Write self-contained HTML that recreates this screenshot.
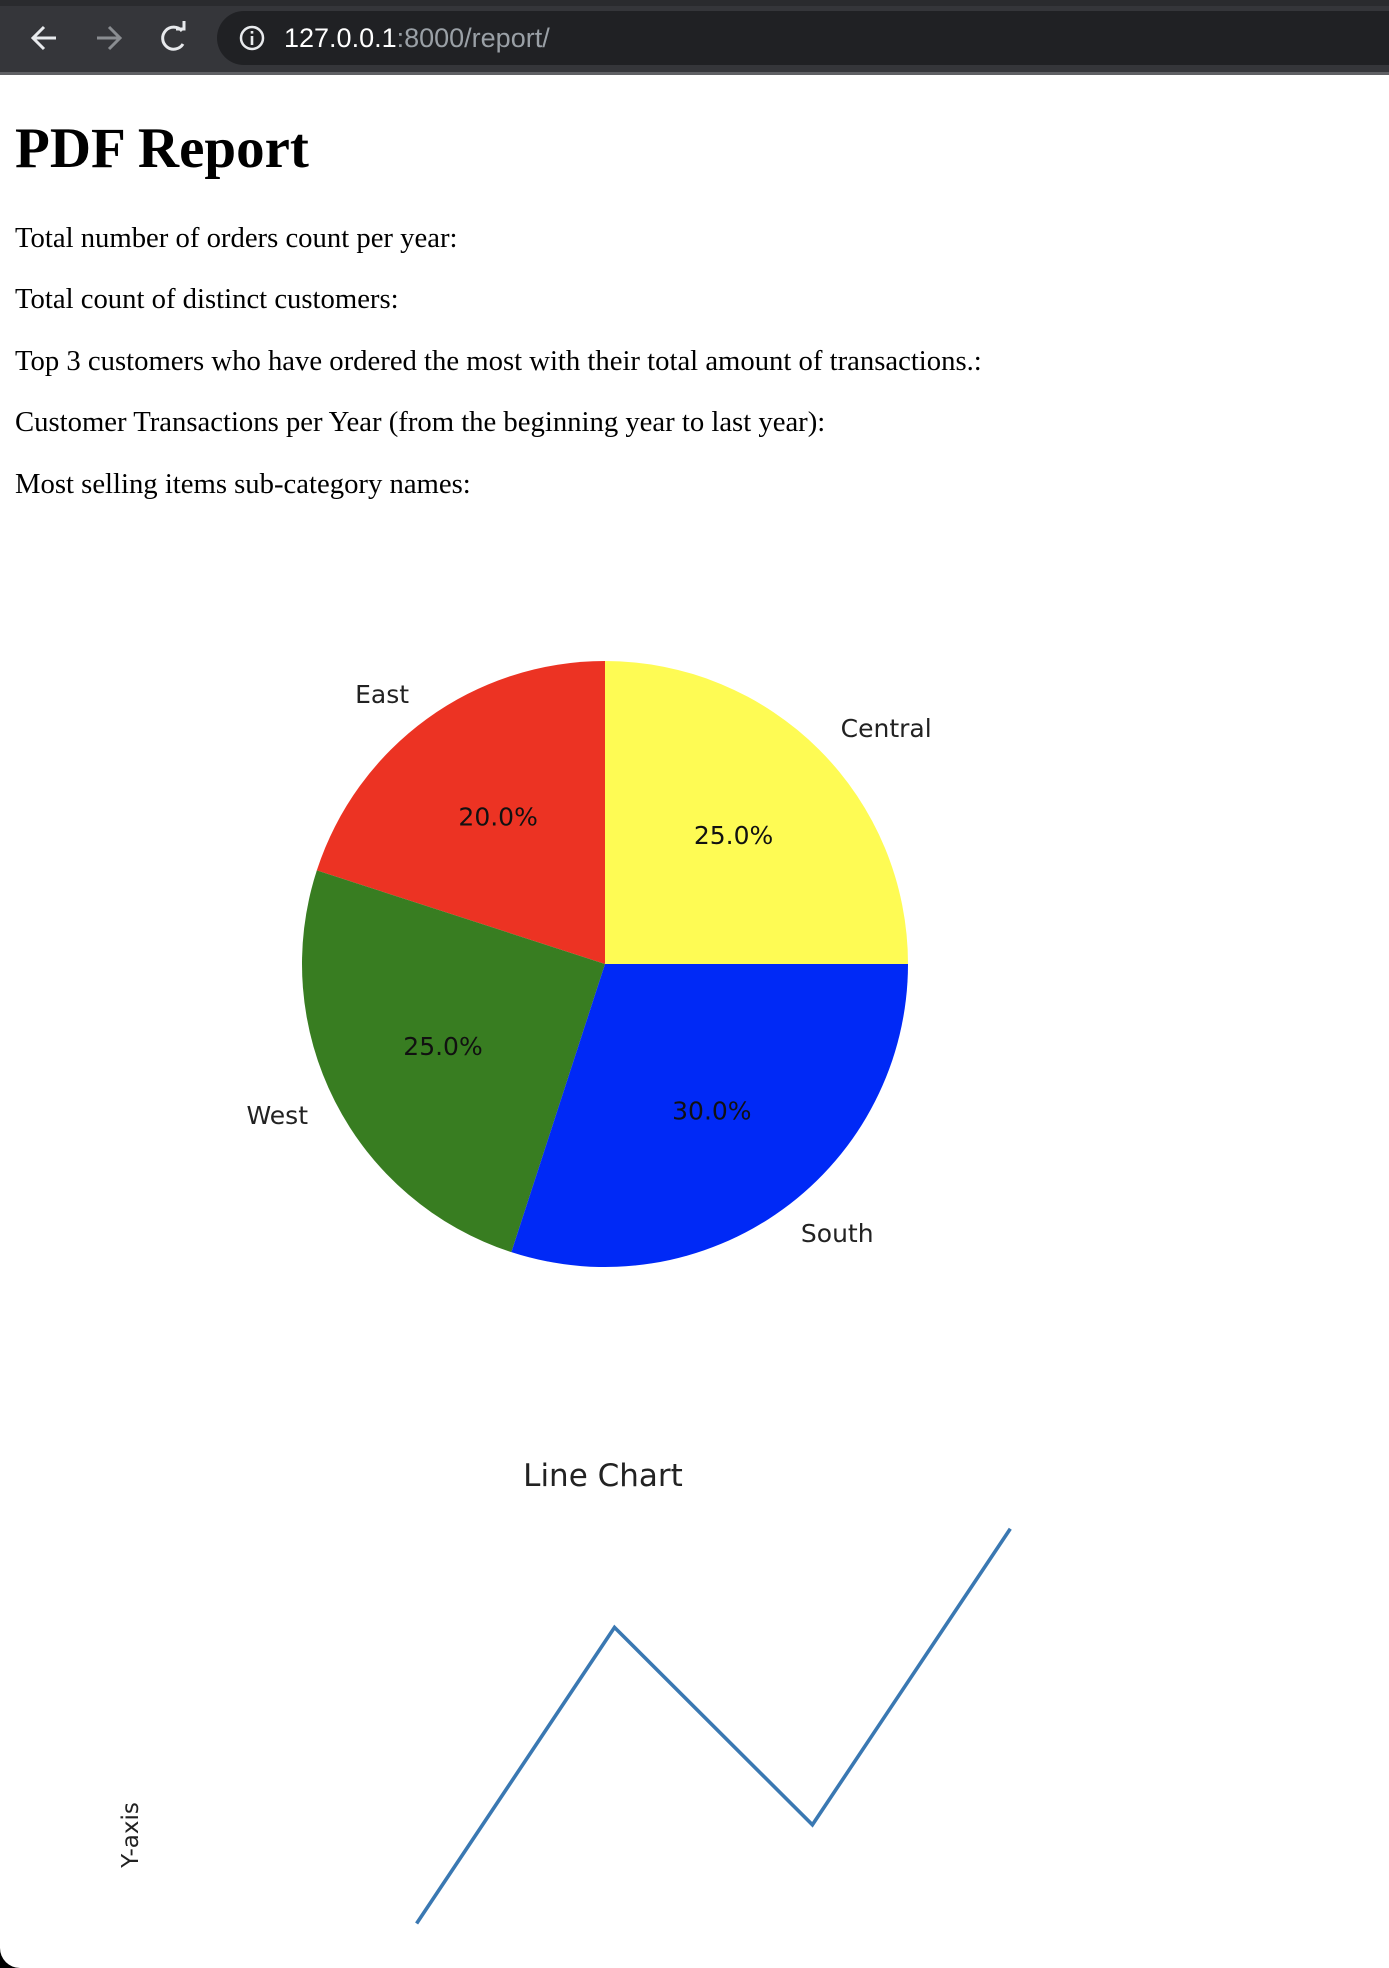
<!DOCTYPE html>
<html><head><meta charset="utf-8">
<style>
html,body{margin:0;padding:0;background:#fff;width:1389px;height:1968px;overflow:hidden;position:relative}
#bar{position:absolute;left:0;top:0;width:1389px;height:75px;background:#35363a}
#bar .strip{position:absolute;left:0;top:0;width:1389px;height:6px;background:#2a2b2e}
#bar .edge{position:absolute;left:0;top:72px;width:1389px;height:3px;background:#5f6064}
#addr{position:absolute;left:217px;top:11px;width:1200px;height:54px;border-radius:27px;background:#202124}
#url{position:absolute;left:284px;top:20px;font-family:"Liberation Sans",sans-serif;font-size:27px;color:#fff;line-height:36px}
#url span{color:#9aa0a6}
h1{position:absolute;left:15px;top:117px;margin:0;font-family:"Liberation Serif",serif;font-size:57px;font-weight:bold;line-height:64px;color:#000}
p.t{position:absolute;left:15px;margin:0;font-family:"Liberation Serif",serif;font-size:28.7px;line-height:32px;color:#000;white-space:nowrap}
svg{position:absolute;left:0;top:0}
</style></head><body>
<div id="bar">
<div class="strip"></div>
<div class="edge"></div>
<svg width="240" height="75">
<g stroke="#e8eaed" stroke-width="3" fill="none"><path d="M33 38 H56 M44 27 L33 38 L44 49"/></g>
<g stroke="#8a8d91" stroke-width="3" fill="none"><path d="M97 38 H120 M109 27 L120 38 L109 49"/></g>
<g stroke="#e8eaed" stroke-width="3" fill="none"><path d="M182 31 A11 11 0 1 0 183 44"/><path d="M176 29 L184 29 L184 21" /></g>
</svg>
<div id="addr"></div>
<svg width="30" height="30" style="left:238px;top:24px"><circle cx="14" cy="14" r="11" stroke="#e8eaed" stroke-width="2.5" fill="none"/><rect x="12.7" y="12" width="2.6" height="9" fill="#e8eaed"/><rect x="12.7" y="7" width="2.6" height="2.6" fill="#e8eaed"/></svg>
<div id="url">127.0.0.1<span>:8000/report/</span></div>
</div>

<h1>PDF Report</h1>
<p class="t" style="top:222px">Total number of orders count per year:</p>
<p class="t" style="top:283px">Total count of distinct customers:</p>
<p class="t" style="top:345px">Top 3 customers who have ordered the most with their total amount of transactions.:</p>
<p class="t" style="top:406px">Customer Transactions per Year (from the beginning year to last year):</p>
<p class="t" style="top:468px">Most selling items sub-category names:</p>

<svg id="pie" width="1389" height="1968" style="pointer-events:none"></svg>
<svg id="line" width="1389" height="1968" style="pointer-events:none"></svg>
<div style="position:absolute;left:0;top:1948px;width:20px;height:20px;background:#000"><div style="width:20px;height:20px;background:#fff;border-bottom-left-radius:20px"></div></div>

<script>
const pieLabels = ["Central","East","West","South"];
const pieValues = [25,20,25,30];
const pieColors = ["#fefb54","#ec3323","#387d21","#0029f6"];
const lineX = [1,2,3,4];
const lineY = [1,4,2,5];

const NS="http://www.w3.org/2000/svg";
function mk(tag,attrs){const e=document.createElementNS(NS,tag);for(const k in attrs)e.setAttribute(k,attrs[k]);return e;}
// pie
(function(){
const svg=document.getElementById('pie');
const cx=605,cy=964,r=303;
const total=pieValues.reduce((a,b)=>a+b,0);
let a0=0;
pieValues.forEach((v,i)=>{
  const a1=a0+v/total*360;
  const t0=a0*Math.PI/180,t1=a1*Math.PI/180;
  const large=(a1-a0)>180?1:0;
  const d=`M${cx},${cy} L${cx+r*Math.cos(t0)},${cy-r*Math.sin(t0)} A${r},${r} 0 ${large} 0 ${cx+r*Math.cos(t1)},${cy-r*Math.sin(t1)} Z`;
  const p=mk('path',{d:d,fill:pieColors[i]});
  
  
  svg.appendChild(p);
  const tm=(a0+a1)/2*Math.PI/180;
  const lx=cx+1.1*r*Math.cos(tm),ly=cy-1.1*r*Math.sin(tm);
  const lab=mk('text',{x:lx,y:ly,'font-family':'DejaVu Sans, sans-serif','font-size':25,fill:'#222','text-anchor':Math.cos(tm)>=0?'start':'end','dominant-baseline':'central'});
  lab.textContent=pieLabels[i];
  
  
  svg.appendChild(lab);
  const px=cx+0.6*r*Math.cos(tm),py=cy-0.6*r*Math.sin(tm);
  const pt=mk('text',{x:px,y:py,'font-family':'DejaVu Sans, sans-serif','font-size':25,fill:'#111','text-anchor':'middle','dominant-baseline':'central'});
  pt.textContent=(v/total*100).toFixed(1)+'%';
  
  
  svg.appendChild(pt);
  a0=a1;
});
})();
// line
(function(){
const svg=document.getElementById('line');
const x0=416.6,xs=197.9,y0=1923.5,ys=98.7;
const X=v=>x0+(v-lineX[0])*xs;
const Y=v=>y0-(v-1)*ys;
const t=mk('text',{x:603,y:1486,'font-family':'DejaVu Sans, sans-serif','font-size':31,fill:'#222','text-anchor':'middle'});
t.textContent='Line Chart';


svg.appendChild(t);
const yl=mk('text',{x:0,y:0,transform:'translate(138,1835) rotate(-90)','font-family':'DejaVu Sans, sans-serif','font-size':23,fill:'#222','text-anchor':'middle'});
yl.textContent='Y-axis';


svg.appendChild(yl);
const pts=lineX.map((x,i)=>X(x)+','+Y(lineY[i])).join(' ');
const pl=mk('polyline',{points:pts,fill:'none',stroke:'#3a78b2','stroke-width':3.6});


svg.appendChild(pl);
})();
</script>
</body></html>
